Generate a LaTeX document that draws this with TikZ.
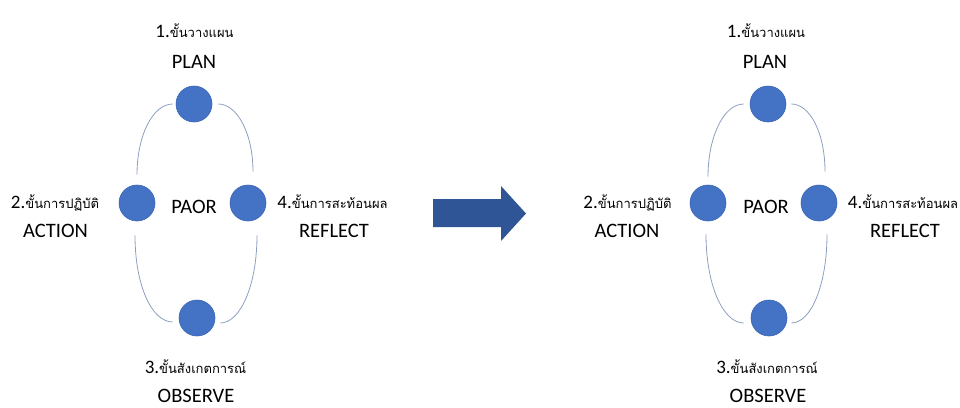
\documentclass[tikz,border=0pt]{standalone}
\usepackage{fontspec}
\setmainfont{Carlito}
\newfontfamily\thaifont[Script=Thai]{Loma}
\usepackage{tikz}
\definecolor{bolita}{HTML}{4472C4}
\definecolor{borde}{HTML}{3A66B4}
\definecolor{curva}{HTML}{8C9FC0}
\definecolor{flecha}{HTML}{2F5597}
\newcommand{\paso}[2]{{\fontsize{19}{22}\selectfont #1.}{\thaifont\fontsize{13}{18}\selectfont #2}}

\begin{document}
\begin{tikzpicture}[x=1pt, y=-1pt,
    bolita/.style={circle, fill=bolita, draw=borde, line width=0.6pt, minimum size=36pt, inner sep=0pt},
    curva/.style={draw=curva, line width=0.8pt},
    rotulo/.style={anchor=base, inner sep=0pt, font=\fontsize{20.5}{24}\selectfont}]
      \useasboundingbox (0,0) rectangle (960,407);
      %ciclo izquierdo
      \node[bolita] (plan) at (194,104) {};
      \node[bolita] (action) at (137,203) {};
      \node[bolita] (reflect) at (248,203) {};
      \node[bolita] (observe) at (197,318) {};
      \draw[curva] ([xshift=-3pt]plan.west) .. controls +(-20,0) and +(0,-39) .. ([yshift=10pt]action.north);
      \draw[curva] ([xshift=6pt]plan.east) .. controls +(19,0) and +(0,-38) .. ([xshift=5pt,yshift=13pt]reflect.north);
      \draw[curva] ([xshift=-2pt,yshift=-14pt]action.south) .. controls +(0,50) and +(-21,0) .. ([xshift=-6pt,yshift=-4pt]observe.west);
      \draw[curva] ([xshift=9pt,yshift=-14pt]reflect.south) .. controls +(0,50) and +(20,0) .. ([xshift=5pt,yshift=-5pt]observe.east);
      \node[rotulo] (paor) at (194,213.5) {PAOR};
      \node[rotulo] (t1) at (194.5,37) {\paso{1}{ขั้นวางแผน}};
      \node[rotulo] (e1) at (194,68.5) {PLAN};
      \node[rotulo] (t2) at (55,208) {\paso{2}{ขั้นการปฏิบัติ}};
      \node[rotulo] (e2) at (55.5,237.5) {ACTION};
      \node[rotulo] (t4) at (332.5,208) {\paso{4}{ขั้นการสะท้อนผล}};
      \node[rotulo] (e4) at (334,237.5) {REFLECT};
      \node[rotulo] (t3) at (195.5,373) {\paso{3}{ขั้นสังเกตการณ์}};
      \node[rotulo] (e3) at (196,402) {OBSERVE};
      %flecha
      \fill[flecha] (433,199) -- (501,199) -- (501,186) -- (526,213.5) -- (501,241) -- (501,227) -- (433,227) -- cycle;
      %ciclo derecho
      \node[bolita] (plan2) at (768,104) {};
      \node[bolita] (action2) at (708,203) {};
      \node[bolita] (reflect2) at (819,203) {};
      \node[bolita] (observe2) at (769,318) {};
      \draw[curva] ([xshift=-6pt]plan2.west) .. controls +(-20,0) and +(0,-40) .. ([yshift=8pt]action2.north);
      \draw[curva] ([xshift=5pt]plan2.east) .. controls +(19,0) and +(0,-38) .. ([xshift=6pt,yshift=13pt]reflect2.north);
      \draw[curva] ([xshift=-2pt,yshift=-13pt]action2.south) .. controls +(0,50) and +(-21,0) .. ([xshift=-7pt,yshift=-5pt]observe2.west);
      \draw[curva] ([xshift=8pt,yshift=-13pt]reflect2.south) .. controls +(0,50) and +(20,0) .. ([xshift=4pt,yshift=-5pt]observe2.east);
      \node[rotulo] (paor2) at (766,213.5) {PAOR};
      \node[rotulo] (t1b) at (766,37) {\paso{1}{ขั้นวางแผน}};
      \node[rotulo] (e1b) at (765,68.5) {PLAN};
      \node[rotulo] (t2b) at (627.5,208) {\paso{2}{ขั้นการปฏิบัติ}};
      \node[rotulo] (e2b) at (627,237.5) {ACTION};
      \node[rotulo] (t4b) at (903,208) {\paso{4}{ขั้นการสะท้อนผล}};
      \node[rotulo] (e4b) at (905,237.5) {REFLECT};
      \node[rotulo] (t3b) at (767,373) {\paso{3}{ขั้นสังเกตการณ์}};
      \node[rotulo] (e3b) at (768,402) {OBSERVE};
\end{tikzpicture}
\end{document}
